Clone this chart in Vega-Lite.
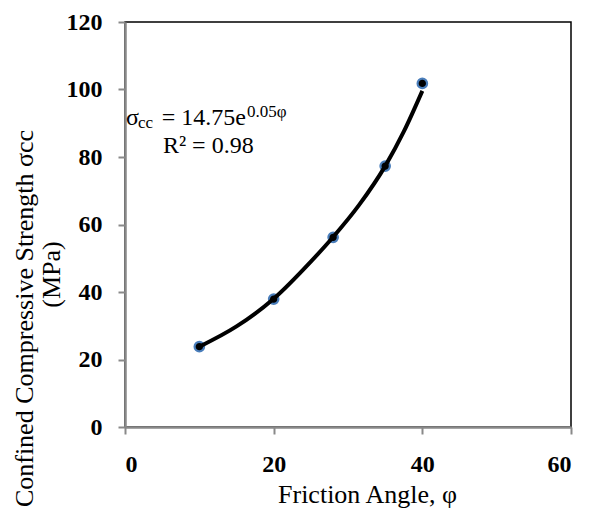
{
  "$schema": "https://vega.github.io/schema/vega-lite/v6.json",
  "width": 446,
  "height": 405,
  "autosize": {"type": "none"},
  "padding": {"left": 125, "top": 22, "right": 18, "bottom": 86},
  "background": "white",
  "config": {
    "view": {"stroke": "black", "strokeWidth": 1.5},
    "font": "Liberation Serif",
    "axis": {
      "grid": false,
      "domainColor": "#898989",
      "domainWidth": 2.5,
      "tickColor": "#898989",
      "tickWidth": 2,
      "tickSize": 7,
      "labelColor": "black",
      "titleColor": "black"
    }
  },
  "datasets": {
    "pts": [
      {"phi": 10, "s": 23.8},
      {"phi": 20, "s": 37.9},
      {"phi": 28, "s": 56.2},
      {"phi": 35, "s": 77.3},
      {"phi": 40, "s": 101.8}
    ],
    "trend": [
      {"phi": 10, "s": 23.8},
      {"phi": 15, "s": 29.8},
      {"phi": 20, "s": 38.0},
      {"phi": 25, "s": 49.0},
      {"phi": 28, "s": 56.3},
      {"phi": 31.5, "s": 65.8},
      {"phi": 35, "s": 77.3},
      {"phi": 37.5, "s": 87.5},
      {"phi": 40, "s": 99.6}
    ],
    "bigtext": [
      {"label": "σ", "px": 0.13, "py": 89.5},
      {"label": "= 14.75e", "px": 4.93, "py": 89.5},
      {"label": "R² = 0.98", "px": 5.1, "py": 81.3}
    ],
    "smalltext": [
      {"label": "cc", "px": 1.75, "py": 88.6},
      {"label": "0.05φ", "px": 16.4, "py": 91.95}
    ]
  },
  "resolve": {"scale": {"y": "independent"}, "axis": {"y": "independent"}},
  "layer": [
    {
      "data": {"name": "pts"},
      "mark": {"type": "point", "filled": true, "fill": "black", "stroke": "#4A7EBB", "strokeWidth": 2.2, "size": 90, "opacity": 1},
      "encoding": {
        "x": {
          "field": "phi", "type": "quantitative",
          "scale": {"domain": [0, 60]},
          "axis": {
            "values": [0, 20, 40, 60],
            "labelFont": "Liberation Serif",
            "labelFontWeight": "bold",
            "labelFontSize": 24,
            "labelPadding": 18,
            "labelBaseline": "top",
            "title": "Friction  Angle, φ",
            "titleFont": "Liberation Serif",
            "titleFontWeight": "normal",
            "titleFontSize": 26,
            "titleX": 242,
            "titleY": 75,
            "titleBaseline": "alphabetic",
            "titleAlign": "center"
          }
        },
        "y": {
          "field": "s", "type": "quantitative",
          "scale": {"domain": [0, 120]},
          "axis": {
            "orient": "left",
            "values": [0, 20, 40, 60, 80, 100, 120],
            "labelFont": "Liberation Serif",
            "labelFontWeight": "bold",
            "labelFontSize": 24,
            "labelPadding": 16,
            "title": "Confined  Compressive  Strength σcc",
            "titleFont": "Liberation Serif",
            "titleFontWeight": "normal",
            "titleFontSize": 26,
            "titleAngle": -90,
            "titleX": -101,
            "titleY": 296,
            "titleAlign": "center",
            "titleBaseline": "middle"
          }
        }
      }
    },
    {
      "data": {"name": "trend"},
      "mark": {"type": "line", "color": "black", "strokeWidth": 4, "interpolate": "monotone"},
      "encoding": {
        "x": {"field": "phi", "type": "quantitative", "scale": {"domain": [0, 60]}},
        "y": {
          "field": "s", "type": "quantitative",
          "scale": {"domain": [0, 120]},
          "axis": {
            "orient": "right",
            "domain": false,
            "ticks": false,
            "labels": false,
            "title": "(MPa)",
            "titleFont": "Liberation Serif",
            "titleFontWeight": "normal",
            "titleFontSize": 26,
            "titleAngle": -90,
            "titleX": -520,
            "titleY": 252,
            "titleAlign": "center",
            "titleBaseline": "middle"
          }
        }
      }
    },
    {
      "data": {"name": "bigtext"},
      "mark": {"type": "text", "font": "Liberation Serif", "fontSize": 24, "align": "left", "baseline": "alphabetic", "color": "black"},
      "encoding": {
        "x": {"field": "px", "type": "quantitative", "scale": {"domain": [0, 60]}},
        "y": {"field": "py", "type": "quantitative", "scale": {"domain": [0, 120]}, "axis": null},
        "text": {"field": "label"}
      }
    },
    {
      "data": {"name": "smalltext"},
      "mark": {"type": "text", "font": "Liberation Serif", "fontSize": 17, "align": "left", "baseline": "alphabetic", "color": "black"},
      "encoding": {
        "x": {"field": "px", "type": "quantitative", "scale": {"domain": [0, 60]}},
        "y": {"field": "py", "type": "quantitative", "scale": {"domain": [0, 120]}, "axis": null},
        "text": {"field": "label"}
      }
    }
  ]
}
